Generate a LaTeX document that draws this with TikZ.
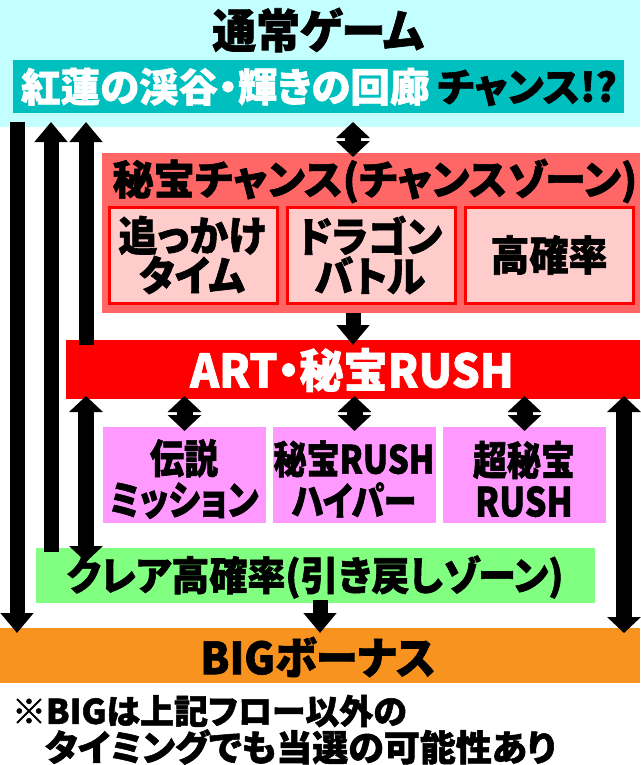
\documentclass[tikz,border=0pt]{standalone}
\usepackage{fontspec}
\setmainfont{Noto Sans CJK JP}[RawFeature=+palt,BoldFeatures={FakeBold=1.5}]
\usetikzlibrary{arrows.meta}
\definecolor{cyanbg}{HTML}{C4FFFF}
\definecolor{tealbox}{HTML}{00BFBF}
\definecolor{redbox}{HTML}{FF6666}
\definecolor{pinkbox}{HTML}{FFCCCC}
\definecolor{purplebox}{HTML}{FF99FF}
\definecolor{greenbox}{HTML}{80FF80}
\definecolor{orangebox}{HTML}{F7931E}
\begin{document}
\begin{tikzpicture}[x=1pt,y=-1pt,
  box/.style={inner sep=0pt,outer sep=0pt,align=center},
  txt/.style={inner sep=0pt,outer sep=0pt,align=center,transform shape},
  subbox/.style={box,fill=pinkbox,draw=red,line width=3pt,minimum width=168pt,minimum height=96pt},
  subtxt/.style={txt,yscale=1.06,font=\bfseries\fontsize{39}{37.5}\selectfont},
  purpbox/.style={box,fill=purplebox,minimum width=163pt,minimum height=96pt},
  purptxt/.style={txt,yscale=1.18,font=\bfseries\fontsize{34}{35}\selectfont},
  sarrow/.style={draw=black,line width=15pt,-{Triangle[width=32pt,length=20pt]}},
  darrow/.style={draw=black,line width=16pt,{Triangle[width=33pt,length=16pt]}-{Triangle[width=33pt,length=16pt]}}]
\useasboundingbox (0,0) rectangle (640,765);
% boxes
\node[box,fill=cyanbg,minimum width=640pt,minimum height=127pt] (top) at (320,63.5) {};
\node[txt,yscale=1.05,font=\bfseries\fontsize{44}{46}\selectfont] (title) at (318,30) {通常ゲーム};
\node[box,fill=tealbox,minimum width=611pt,minimum height=53pt] (teal) at (318.5,86.5) {};
\node[txt,font=\bfseries\fontsize{39.5}{42}\selectfont] (tealtext) at (319,87) {\textcolor{white}{紅蓮の渓谷・輝きの回廊}\hspace{8pt}チャンス!?};
\node[box,fill=redbox,minimum width=538pt,minimum height=160pt] (chance) at (371,233) {};
\node[txt,font=\bfseries\fontsize{41}{44}\selectfont] (chancetitle) at (375,181) {秘宝チャンス(チャンスゾーン)};
\node[subbox] (s1) at (193,255.5) {};
\node[subbox] (s2) at (371.5,255.5) {};
\node[subbox] (s3) at (549.5,255.5) {};
\node[subtxt] (s1t) at (192,255) {追っかけ\\タイム};
\node[subtxt] (s2t) at (370,255) {ドラゴン\\バトル};
\node[subtxt] (s3t) at (549,255) {高確率};
\node[box,fill=red,minimum width=574pt,minimum height=59pt] (art) at (353,369.5) {};
\node[txt,yscale=1.05,text=white,font=\bfseries\fontsize{44}{48}\selectfont] (arttext) at (352,370) {ART・秘宝RUSH};
\node[purpbox] (p1) at (184.5,475) {};
\node[purpbox] (p2) at (354.5,475) {};
\node[purpbox] (p3) at (524.5,475) {};
\node[purptxt] (p1t) at (184,479) {伝説\\ミッション};
\node[purptxt,font=\bfseries\fontsize{33}{35.5}\selectfont] (p2t) at (354,479) {秘宝RUSH\\ハイパー};
\node[purptxt] (p3t) at (524,479) {超秘宝\\RUSH};
\node[box,fill=greenbox,minimum width=559pt,minimum height=55pt] (green) at (315.5,575.5) {};
\node[txt,yscale=1.05,font=\bfseries\fontsize{38}{42}\selectfont] (greentext) at (315,577) {クレア高確率(引き戻しゾーン)};
\node[box,fill=orangebox,minimum width=640pt,minimum height=55pt] (big) at (320,655.5) {};
\node[txt,yscale=1.05,font=\bfseries\fontsize{42}{44}\selectfont] (bigtext) at (318,657) {BIGボーナス};
\node[txt,anchor=west,font=\bfseries\fontsize{34}{36}\selectfont] (note1) at (12,711) {※BIGは上記フロー以外の};
\node[txt,anchor=west,font=\bfseries\fontsize{36}{36}\selectfont] (note2) at (45,747) {タイミングでも当選の可能性あり};
% column coordinates
\coordinate (x1) at (17,0);
\coordinate (x2) at (51,0);
\coordinate (x3) at (86,0);
\coordinate (x4) at (624,0);
\coordinate (xm) at (353,0);
\coordinate (xg) at (320,0);
% arrows
\draw[sarrow,shorten <=-5pt,shorten >=-5pt] (top.south -| x1) -- (big.north -| x1);
\draw[sarrow,shorten <=-4pt,shorten >=-5pt] (green.north -| x2) -- (top.south -| x2);
\draw[sarrow,shorten <=-5pt,shorten >=-5pt] (art.north -| x3) -- (top.south -| x3);
\draw[darrow,shorten <=-5pt,shorten >=-4pt] (top.south -| xm) -- (chance.north -| xm);
\draw[sarrow,shorten >=-5pt] (chance.south -| xm) -- (art.north -| xm);
\draw[darrow,shorten <=-3pt,shorten >=-4pt] (art.south -| p1) -- (p1.north);
\draw[darrow,shorten <=-3pt,shorten >=-4pt] (art.south -| p2) -- (p2.north);
\draw[darrow,shorten <=-3pt,shorten >=-4pt] (art.south -| p3) -- (p3.north);
\draw[darrow,shorten <=-3pt,shorten >=-14pt] (art.south -| x3) -- (green.north -| x3);
\draw[darrow,shorten <=-3pt,shorten >=-5pt] (art.south -| x4) -- (big.north -| x4);
\draw[sarrow,shorten <=-3pt,shorten >=-5pt] (green.south -| xg) -- (big.north -| xg);
\end{tikzpicture}
\end{document}
